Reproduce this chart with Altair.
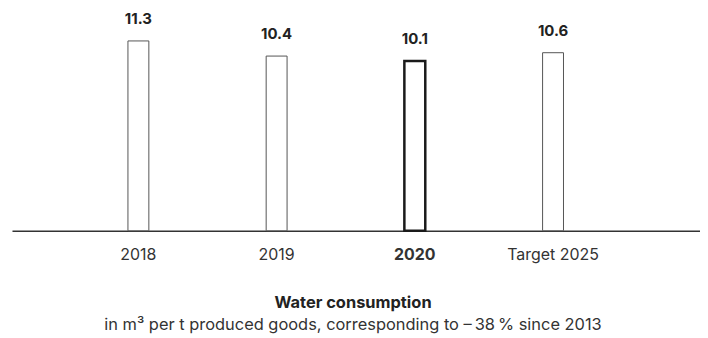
import altair as alt
import pandas as pd

categories = ["2018", "2019", "2020", "Target 2025"]
values = [11.3, 10.4, 10.1, 10.6]
labels = ["11.3", "10.4", "10.1", "10.6"]
highlight = "2020"

df = pd.DataFrame({"year": categories, "value": values, "label": labels})

FONT = "Inter"

x = alt.X(
    "year:N",
    sort=categories,
    scale=alt.Scale(paddingInner=0, paddingOuter=0.489, align=0.424),
    axis=alt.Axis(
        title=None,
        labelAngle=0,
        labelFontSize=16,
        labelFont=FONT,
        labelColor="#333333",
        labelFontWeight={"condition": {"test": "datum.value == '2020'", "value": "bold"}, "value": "normal"},
        labelPadding=16,
        ticks=False,
        domainColor="#333333",
        domainWidth=1.5,
        grid=False,
    ),
)
y = alt.Y("value:Q", scale=alt.Scale(domain=[0, 13.22], nice=False, zero=True), axis=None)

is_hi = alt.datum.year == highlight

bars = alt.Chart(df).mark_bar(width=21, fill="white").encode(
    x=x,
    y=y,
    stroke=alt.condition(is_hi, alt.value("#1a1a1a"), alt.value("#555555")),
    strokeWidth=alt.condition(is_hi, alt.value(2.5), alt.value(1)),
)

text = alt.Chart(df).mark_text(
    baseline="alphabetic", dy=-17, font=FONT, fontSize=15, fontWeight="bold", color="#222222"
).encode(x=x, y=y, text="label:N")

chart = (
    alt.layer(bars, text)
    .properties(
        width=691,
        height=223,
        padding={"left": 4, "top": 0, "right": 0, "bottom": 0},
        title=alt.TitleParams(
            text="Water consumption",
            subtitle="in m³ per t produced goods, corresponding to –\u200938\u2009% since 2013",
            orient="bottom",
            anchor="middle",
            dx=-3,
            font=FONT,
            fontSize=16.5,
            fontWeight="bold",
            color="#222222",
            subtitleFont=FONT,
            subtitleFontSize=16.5,
            subtitleColor="#333333",
            subtitlePadding=5,
            offset=33,
        ),
    )
    .configure_view(stroke=None)
)

chart.save("out.html", embed_options={"renderer": "svg", "actions": False})
